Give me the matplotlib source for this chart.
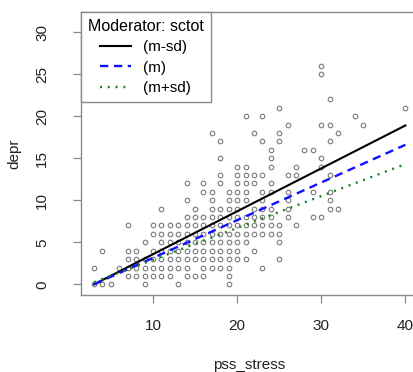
import numpy as np
import matplotlib
matplotlib.use('Agg')
from matplotlib import pyplot as plt

# observed scores: for each depr level, the pss_stress values seen at that level
depr_levels = [0, 1, 2, 3, 4, 5, 6, 7, 8, 9, 10, 11, 12, 13, 14, 15, 16, 17, 18,
               19, 20, 21, 22, 25, 26]
pss_at_level = [
    [3, 4, 5, 9, 13, 19],
    [7, 8, 9, 10, 11, 12, 14, 15, 16, 19],
    [3, 6, 7, 8, 9, 10, 11, 12, 13, 14, 16, 17, 18, 19, 23],
    [7, 8, 9, 10, 11, 12, 13, 14, 15, 16, 17, 18, 19, 20, 21, 25],
    [4, 7, 8, 10, 11, 12, 13, 14, 15, 16, 17, 18, 19, 20, 22],
    [9, 11, 12, 13, 14, 15, 16, 17, 18, 19, 20, 21, 25],
    [10, 11, 12, 13, 14, 15, 16, 17, 18, 19, 20, 21, 22, 23, 24, 25],
    [7, 10, 11, 12, 13, 14, 15, 16, 17, 18, 19, 20, 21, 22, 23, 24, 25, 27],
    [14, 15, 16, 17, 18, 19, 20, 21, 22, 23, 24, 26, 29, 30],
    [11, 15, 17, 18, 19, 20, 22, 23, 24, 26, 31, 32],
    [14, 17, 19, 20, 21, 23, 26, 31],
    [16, 17, 19, 20, 21, 23, 24, 26, 29, 31],
    [14, 16, 18, 20, 21, 22, 24],
    [18, 20, 21, 22, 23, 26, 27, 31],
    [20, 21, 24, 27, 30],
    [18, 24, 30],
    [24, 28, 29],
    [18, 23, 25, 31],
    [17, 22, 25, 32],
    [26, 30, 31, 35],
    [21, 23, 34],
    [25, 40],
    [31],
    [30],
    [30],
]

# simple slopes at the three moderator values (ends of each line)
line_x = [3, 40]
fit_m_minus_sd = [0.0, 18.9]
fit_m = [0.0, 16.6]
fit_m_plus_sd = [0.25, 14.3]
legend_labels = ['(m-sd)', '(m)', '(m+sd)']

pss_stress = np.concatenate([np.array(v) for v in pss_at_level])
depr = np.repeat(depr_levels, [len(v) for v in pss_at_level])

plt.rcParams['font.family'] = ['Liberation Sans', 'DejaVu Sans']
plt.rcParams['lines.scale_dashes'] = False

fig = plt.figure(figsize=(4.14, 3.72), dpi=100)
ax = fig.add_axes([81/414, 77/372, 337/414, 283/372])

ax.plot(pss_stress, depr, 'o', mfc='none', mec='#7a7a7a', ms=3.3, mew=0.8)

ax.plot(line_x, fit_m_minus_sd, color='black', lw=1.5, label=legend_labels[0])
ax.plot(line_x, fit_m, color='#1010ff', lw=1.7, dashes=(6, 4), label=legend_labels[1])
ax.plot(line_x, fit_m_plus_sd, color='#1a7f1a', lw=1.7, dashes=(1.4, 4.2),
        label=legend_labels[2])

ax.set_xlim(1.45, 41.5)
ax.set_ylim(-1.27, 32.4)
ax.set_xticks([10, 20, 30, 40])
ax.set_yticks([0, 5, 10, 15, 20, 25, 30])

for s in ax.spines.values():
    s.set_color('#8a8a8a')
    s.set_linewidth(1.0)
ax.tick_params(length=6, width=0.9, color='#8a8a8a', labelsize=11,
               labelcolor='#222222')
ax.tick_params(axis='x', pad=11)
ax.tick_params(axis='y', pad=17)
for lbl in ax.get_yticklabels():
    lbl.set_rotation(90)
    lbl.set_va('center')

ax.set_xlabel('pss_stress', fontsize=11, color='#222222', labelpad=18)
ax.set_ylabel('depr', fontsize=11, color='#222222', labelpad=10)

leg = ax.legend(title='Moderator: sctot', loc='upper left', bbox_to_anchor=(0, 1),
                borderaxespad=0, fancybox=False, framealpha=1,
                edgecolor='#8a8a8a', fontsize=11, title_fontsize=11.5,
                handlelength=2.0, handletextpad=0.8, labelspacing=0.42,
                borderpad=0.45)
leg.get_frame().set_linewidth(1.0)

fig.savefig('out.png', dpi=100)
